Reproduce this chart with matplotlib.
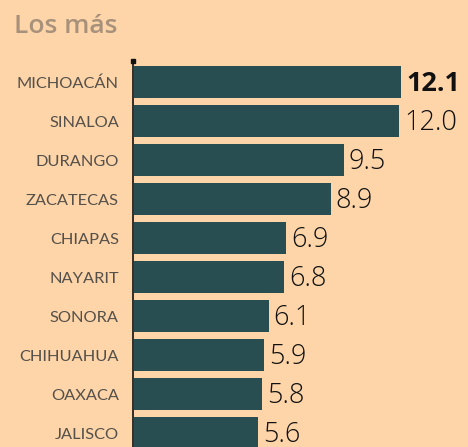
import matplotlib
matplotlib.use("Agg")
import matplotlib.pyplot as plt
from matplotlib.transforms import offset_copy

states = ["MICHOACÁN", "SINALOA", "DURANGO", "ZACATECAS", "CHIAPAS",
          "NAYARIT", "SONORA", "CHIHUAHUA", "OAXACA", "JALISCO"]
values = [12.1, 12.0, 9.5, 8.9, 6.9, 6.8, 6.1, 5.9, 5.8, 5.6]
value_labels = ["12.1", "12.0", "9.5", "8.9", "6.9", "6.8", "6.1", "5.9", "5.8", "5.6"]
title = "Los más"

W, H = 468, 447
bg = "#FDD5A9"
bar_color = "#284E51"

fig = plt.figure(figsize=(W / 100, H / 100), dpi=100, facecolor=bg)
ax_left = 133 / W
ax_top = 61
ax = fig.add_axes([ax_left, 0, 1 - ax_left, (H - ax_top) / H])
ax.set_facecolor(bg)

pitch = 39.0
y = list(range(len(states)))
ax.barh(y, values, height=32 / pitch, color=bar_color, left=0.05)
ax.set_ylim((H - 82) / pitch, -(82 - ax_top) / pitch)
ax.set_xlim(0, (W - 133) / 22.07)

for sp in ["top", "right", "bottom"]:
    ax.spines[sp].set_visible(False)
ax.spines["left"].set_color("#111111")
ax.spines["left"].set_linewidth(1.2)
ax.set_xticks([])
ax.set_yticks([])
ax.plot([0], [-(82 - ax_top) / pitch], marker="s", ms=2.5, color="#111111", clip_on=False)

lab_tr = offset_copy(ax.transData, fig=fig, x=-14, y=0, units="dots")
for i, s in enumerate(states):
    ax.text(0, i + 0.05, s, transform=lab_tr, ha="right", va="center",
            fontsize=11.8, color="#55504A", family="Lato")

for i, (v, lab) in enumerate(zip(values, value_labels)):
    ax.text(v + 0.05 + 5 / 22.07, i + 0.05, lab, va="center", ha="left",
            fontsize=19.5, color="#111111", family="Open Sans",
            fontweight="bold" if i == 0 else "light")

fig.text(14 / W, 1 - 33 / H, title, fontsize=19, color="#A8917A",
         family="Open Sans", fontweight="semibold", va="baseline", ha="left")

fig.savefig("out.png", dpi=100, facecolor=bg)
